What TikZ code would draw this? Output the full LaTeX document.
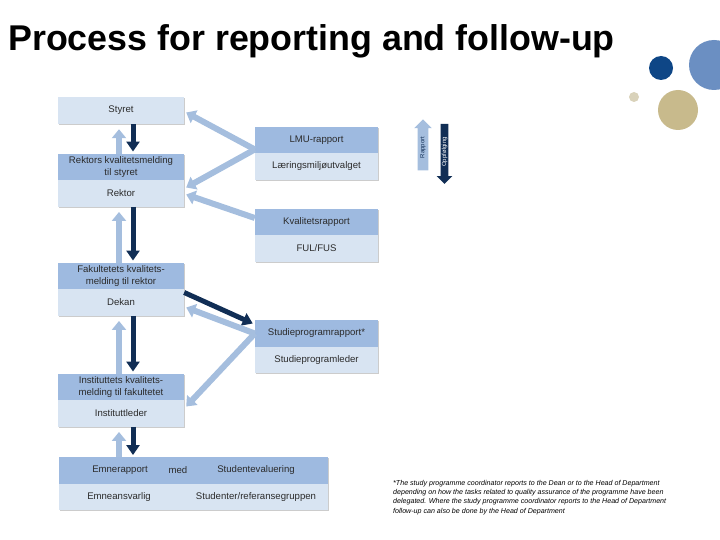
\documentclass[tikz,border=0pt]{standalone}
\usepackage{fontspec}
\setmainfont{Liberation Sans}
\usepackage{tikz}
\usetikzlibrary{arrows.meta,positioning,calc,shapes.arrows,shadows}
\definecolor{boxdark}{HTML}{9EBAE0}
\definecolor{boxlight}{HTML}{D8E4F2}
\definecolor{replight}{HTML}{A5BEDE}
\definecolor{fupdark}{HTML}{112E55}
\definecolor{dotnavy}{HTML}{0E4686}
\definecolor{dotblue}{HTML}{6B8FC2}
\definecolor{dotsand}{HTML}{C8BA8C}
\definecolor{dotpale}{HTML}{D9D2BA}
\definecolor{txtgray}{HTML}{2B2B2B}

\begin{document}
\begin{tikzpicture}[x=1pt,y=-1pt,
  box/.style={minimum width=126pt,minimum height=26.5pt,inner sep=0pt,align=center,
    font=\fontsize{9.6}{11.5}\selectfont,text=txtgray,
    drop shadow={shadow xshift=1pt,shadow yshift=-1pt,fill=black,opacity=0.2}},
  hbox/.style={box,fill=boxdark},
  lbox/.style={box,fill=boxlight},
  rcol/.style={minimum width=123pt},
  wide/.style={minimum width=269pt},
  repline/.style={-{Triangle[length=9pt,width=14pt]},line width=6pt,replight},
  fupline/.style={-{Triangle[length=10pt,width=13pt]},line width=5pt,fupdark},
  boxtext/.style={inner sep=0pt,font=\fontsize{9.6}{11.5}\selectfont,text=txtgray}]
\useasboundingbox (0,0) rectangle (720,540);

% title and dots
\node[anchor=base west,inner sep=0pt,font=\fontsize{35.8}{40}\selectfont\bfseries] (title) at (8,51) {Process for reporting and follow-up};
\fill[dotblue] (714,65) circle (25pt);
\fill[dotnavy] (661,68) circle (12pt);
\fill[dotsand] (678,110) circle (20pt);
\fill[dotpale] (634,97) circle (5pt);

% left column
\node[lbox,minimum height=27pt] (styret) at (121,110.5) {Styret};
\node[hbox] (rekH) at (121,167) {Rektors kvalitetsmelding\\til styret};
\node[lbox] (rek) at (121,193.5) {Rektor};
\node[hbox] (fakH) at (121,276) {Fakultetets kvalitets-\\melding til rektor};
\node[lbox] (dekan) at (121,302.5) {Dekan};
\node[hbox] (instH) at (121,387) {Instituttets kvalitets-\\melding til fakultetet};
\node[lbox] (inst) at (121,413.5) {Instituttleder};

% right column
\node[hbox,rcol] (lmuH) at (316.5,140) {LMU-rapport};
\node[lbox,rcol] (lmu) at (316.5,166.5) {Læringsmiljøutvalget};
\node[hbox,rcol] (kvalH) at (316.5,222) {Kvalitetsrapport};
\node[lbox,rcol] (kval) at (316.5,248.5) {FUL/FUS};
\node[hbox,rcol] (studH) at (316.5,333.5) {Studieprogramrapport*};
\node[lbox,rcol] (stud) at (316.5,360) {Studieprogramleder};

% bottom box
\node[hbox,wide] (emneH) at (193.5,470.5) {};
\node[lbox,wide] (emne) at (193.5,497) {};
\node[boxtext] (emrap) at (120,470.5) {Emnerapport};
\node[boxtext] (med) at (178,470.5) {med};
\node[boxtext] (steval) at (256,470.5) {Studentevaluering};
\node[boxtext] (emansv) at (119,497) {Emneansvarlig};
\node[boxtext] (refgr) at (256,497) {Studenter/referansegruppen};

% vertical arrows
\foreach \up/\low in {styret/rekH,rek/fakH,dekan/instH,inst/emneH}{
  \draw[repline] (119,0 |- \low.north) -- ($(119,0 |- \up.south)+(0,5)$);
  \draw[fupline] (133,0 |- \up.south) -- ($(133,0 |- \low.north)+(0,-2)$);
}

% diagonal arrows
\draw[repline] ($(lmuH.south west)+(0,-4)$) -- ($(styret.east)+(2,2)$);
\draw[repline] ($(lmuH.south west)+(0,-4)$) -- ($(rek.east)+(2,-6)$);
\draw[repline] ($(kvalH.west)+(0,-4)$) -- ($(rek.east)+(2,1)$);
\draw[fupline] ($(dekan.east)+(0,-10)$) -- ($(studH.west)+(-2,-10)$);
\draw[repline] (studH.west) -- ($(dekan.east)+(2,5)$);
\draw[repline] (studH.west) -- ($(inst.east)+(2,-7)$);

% legend
\node[single arrow,fill=replight,rotate=90,minimum height=51pt,minimum width=17pt,single arrow head extend=3.5pt,
  inner xsep=1pt,inner ysep=2.5pt,font=\fontsize{6}{6}\selectfont,text=fupdark] (legrep) at (423,147.5) {Rapport};
\node[single arrow,fill=fupdark,rotate=90,shape border rotate=180,minimum height=60pt,minimum width=15pt,single arrow head extend=4pt,
  inner xsep=1pt,inner ysep=0.8pt,font=\fontsize{6}{6}\selectfont,text=white] (legfup) at (444.5,152) {Oppfølging};

% footnote
\node[anchor=north west,align=left,inner sep=0pt,font=\fontsize{7.1}{9.3}\selectfont\itshape] (note) at (393,480)
  {*The study programme coordinator reports to the Dean or to the Head of Department\\
   depending on how the tasks related to quality assurance of the programme have been\\
   delegated. Where the study programme coordinator reports to the Head of Department\\
   follow-up can also be done by the Head of Department};
\end{tikzpicture}
\end{document}
